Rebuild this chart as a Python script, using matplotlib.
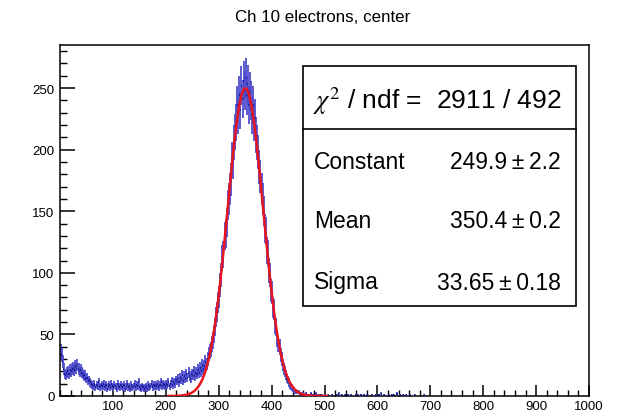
import numpy as np
import matplotlib
matplotlib.use("Agg")
import matplotlib.pyplot as plt
from matplotlib.ticker import MultipleLocator, FixedLocator
from matplotlib.patches import Rectangle
from matplotlib.lines import Line2D

plt.rcParams['font.family'] = ['Liberation Sans', 'DejaVu Sans']
plt.rcParams['mathtext.fontset'] = 'stix'

title = "Ch 10 electrons, center"
bin_width = 2
x_min, x_max = 0, 1000
y_max = 285

# bin contents, 10 bins (20 units) per row
counts_0_100 = [36, 33, 28, 22, 18, 17, 19, 20, 18, 21,
                20, 22, 23, 21, 24, 23, 25, 22, 20, 21,
                19, 18, 16, 17, 14, 15, 12, 13, 11, 10,
                9, 8, 10, 7, 9, 8, 11, 7, 8, 9,
                8, 10, 7, 9, 6, 8, 9, 7, 10, 8]
counts_100_200 = [7, 9, 8, 6, 10, 8, 7, 9, 8, 7,
                  9, 6, 8, 10, 7, 8, 6, 9, 7, 8,
                  10, 7, 9, 8, 11, 7, 6, 8, 7, 6,
                  7, 8, 6, 9, 7, 8, 10, 7, 9, 8,
                  9, 8, 10, 7, 9, 11, 8, 10, 9, 8]
counts_200_300 = [10, 9, 11, 8, 10, 12, 9, 11, 10, 13,
                  12, 14, 11, 15, 13, 17, 12, 16, 14, 18,
                  15, 19, 16, 14, 18, 17, 20, 16, 19, 18,
                  21, 19, 23, 20, 25, 22, 24, 28, 26, 30,
                  34, 36, 38, 42, 45, 50, 56, 64, 68, 76]
counts_300_400 = [80, 90, 98, 112, 115, 130, 132, 141, 155, 160,
                  168, 176, 192, 190, 206, 214, 222, 236, 228, 244,
                  232, 252, 241, 256, 248, 258, 244, 253, 236, 247,
                  240, 228, 236, 222, 226, 212, 206, 198, 186, 178,
                  168, 160, 150, 136, 134, 118, 116, 102, 98, 86]
counts_400_500 = [84, 72, 70, 58, 56, 47, 42, 40, 33, 30,
                  25, 22, 20, 17, 14, 13, 11, 9, 8, 7,
                  6, 5, 4, 4, 3, 3, 2, 2, 1, 2,
                  1, 1, 2, 0, 1, 1, 0, 2, 1, 0,
                  1, 2, 1, 0, 1, 0, 1, 1, 0, 0]
counts_500_600 = [1, 0, 0, 1, 0, 0, 0, 1, 0, 0,
                  0, 1, 0, 2, 0, 0, 1, 0, 0, 1,
                  0, 0, 1, 0, 0, 1, 0, 0, 0, 1,
                  0, 1, 0, 0, 1, 0, 0, 1, 0, 0,
                  1, 0, 0, 0, 1, 0, 0, 0, 1, 0]
counts_600_700 = [0, 1, 0, 2, 0, 0, 1, 0, 0, 0,
                  1, 0, 0, 1, 0, 1, 0, 0, 2, 0,
                  0, 1, 0, 0, 1, 0, 0, 1, 0, 0,
                  1, 0, 0, 0, 0, 1, 0, 0, 0, 0,
                  0, 0, 0, 0, 1, 0, 0, 0, 0, 0]
counts_700_1000 = [0] * 150

# fit result (Gaussian)
fit_constant = 249.9
fit_mean = 350.4
fit_sigma = 33.65
fit_range = (205, 505)
stats_labels = ["Constant", "Mean", "Sigma"]
stats_values = ["249.9\u2009\u00b1\u20092.2", "350.4\u2009\u00b1\u20090.2",
                "33.65\u2009\u00b1\u20090.18"]
chi2_text = r"$\chi^{2}$ / ndf =  2911 / 492"

counts = np.array(counts_0_100 + counts_100_200 + counts_200_300 + counts_300_400
                  + counts_400_500 + counts_500_600 + counts_600_700 + counts_700_1000,
                  dtype=float)
edges = np.arange(x_min, x_max + bin_width, bin_width)
centers = 0.5 * (edges[:-1] + edges[1:])

W, H = 619, 414
fig = plt.figure(figsize=(W / 100, H / 100), dpi=100)
L, R, B, T = 60, 589, 397, 46
ax = fig.add_axes([L / W, 1 - B / H, (R - L) / W, (B - T) / H])

mask = counts > 0
c = centers[mask]
n = counts[mask]
err = np.sqrt(n)
ax.vlines(c, n - err, n + err, color='#4a4acb', lw=1.4, alpha=0.9, zorder=2)
ax.hlines(n, c - bin_width / 2, c + bin_width / 2, color='#10108a', lw=1.2, zorder=3)

xf = np.linspace(fit_range[0], fit_range[1], 600)
yf = fit_constant * np.exp(-0.5 * ((xf - fit_mean) / fit_sigma) ** 2)
ax.plot(xf, yf, color='#e8141e', lw=1.8, zorder=4)

ax.set_xlim(x_min, x_max)
ax.set_ylim(0, y_max)
ax.xaxis.set_major_locator(FixedLocator(np.arange(100, 1001, 100)))
ax.xaxis.set_minor_locator(MultipleLocator(20))
ax.yaxis.set_major_locator(MultipleLocator(50))
ax.yaxis.set_minor_locator(MultipleLocator(10))
ax.tick_params(axis='x', which='major', direction='in', length=8, width=1.1,
               labelsize=9.5, pad=3)
ax.tick_params(axis='x', which='minor', direction='in', length=4.3, width=1.0)
ax.tick_params(axis='y', which='major', direction='in', length=10.5, width=1.1,
               labelsize=9.5, pad=4)
ax.tick_params(axis='y', which='minor', direction='in', length=5, width=1.0)
for s in ax.spines.values():
    s.set_linewidth(1.1)

fig.text(323 / W, 1 - 17 / H, title, ha='center', va='center', fontsize=12.2)

# stats box in figure pixel coordinates
bx0, bx1, by0, by1, bsep = 303, 576, 67, 307, 130
to_fig = lambda px, py: (px / W, 1 - py / H)
x0f, y1f = to_fig(bx0, by1)
fig.patches.append(Rectangle((x0f, y1f), (bx1 - bx0) / W, (by1 - by0) / H,
                             transform=fig.transFigure, facecolor='white',
                             edgecolor='black', lw=1.2, zorder=10))
fig.lines.append(Line2D([bx0 / W, bx1 / W], [1 - bsep / H, 1 - bsep / H],
                        transform=fig.transFigure, color='black', lw=1.2, zorder=11))
fig.text(437.5 / W, 1 - 101 / H, chi2_text, ha='center', va='center',
         fontsize=19, zorder=12)
row_y = [163, 222, 283]
for lab, val, yy in zip(stats_labels, stats_values, row_y):
    fig.text(314 / W, 1 - yy / H, lab, ha='left', va='center', fontsize=16.5, zorder=12)
    fig.text(561 / W, 1 - yy / H, val, ha='right', va='center', fontsize=16.5, zorder=12)

fig.savefig("out.png", dpi=100)
